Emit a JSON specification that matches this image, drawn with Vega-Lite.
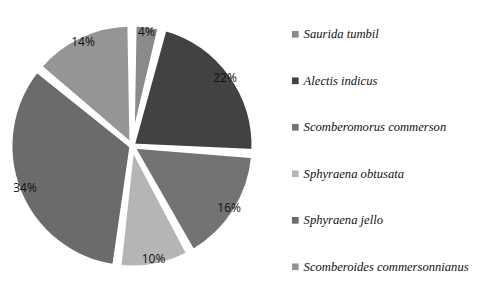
{
  "$schema": "https://vega.github.io/schema/vega-lite/v6.json",
  "width": 242,
  "height": 280,
  "padding": {"top": 6, "left": 0, "right": 0, "bottom": 0},
  "autosize": {"type": "pad"},
  "background": "white",
  "data": {"values": [
    {"i": 1, "species": "Saurida tumbil", "share": 0.04},
    {"i": 2, "species": "Alectis indicus", "share": 0.22},
    {"i": 3, "species": "Scomberomorus commerson", "share": 0.16},
    {"i": 4, "species": "Sphyraena obtusata", "share": 0.10},
    {"i": 5, "species": "Sphyraena jello", "share": 0.34},
    {"i": 6, "species": "Scomberoides commersonnianus", "share": 0.14}
  ]},
  "encoding": {
    "theta": {"field": "share", "type": "quantitative", "stack": true},
    "order": {"field": "i", "type": "ordinal"}
  },
  "layer": [
    {
      "mark": {"type": "arc", "outerRadius": 122, "padAngle": 0.035, "stroke": "white", "strokeWidth": 5},
      "encoding": {
        "color": {
          "field": "species", "type": "nominal",
          "sort": ["Saurida tumbil", "Alectis indicus", "Scomberomorus commerson", "Sphyraena obtusata", "Sphyraena jello", "Scomberoides commersonnianus"],
          "scale": {
            "domain": ["Saurida tumbil", "Alectis indicus", "Scomberomorus commerson", "Sphyraena obtusata", "Sphyraena jello", "Scomberoides commersonnianus"],
            "range": ["#8a8a8a", "#424242", "#737373", "#b5b5b5", "#6b6b6b", "#959595"]
          },
          "legend": {
            "title": null,
            "orient": "none",
            "legendX": 278,
            "legendY": 22,
            "symbolType": "square",
            "symbolSize": 45,
            "symbolStrokeWidth": 0,
            "rowPadding": 33.5,
            "labelFont": "Liberation Serif",
            "labelFontStyle": "italic",
            "labelFontSize": 12.6,
            "labelColor": "#111",
            "labelLimit": 200,
            "labelOffset": 2
          }
        }
      }
    },
    {
      "mark": {"type": "text", "radius": 115, "font": "Open Sans", "fontSize": 12, "color": "#111"},
      "encoding": {
        "text": {"field": "share", "type": "quantitative", "format": ".0%"},
        "detail": {"field": "species"}
      }
    }
  ]
}
